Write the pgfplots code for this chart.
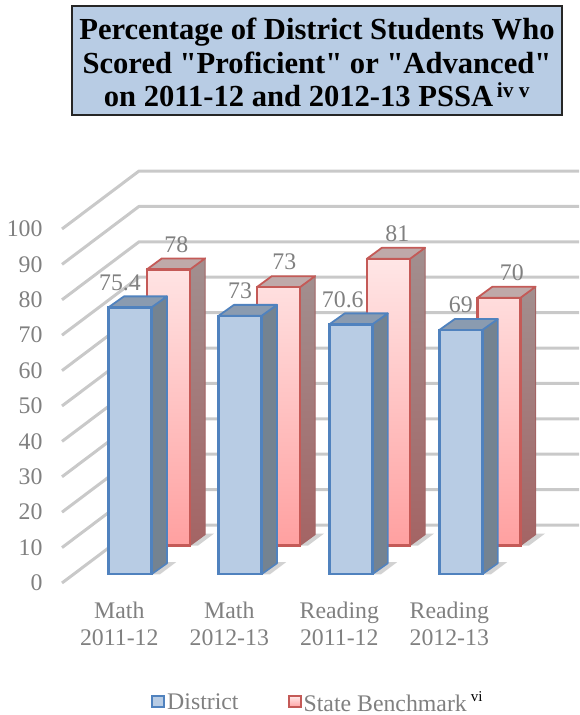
\documentclass[border=0pt]{standalone}
\usepackage{fontspec}
\setmainfont{Liberation Serif}
\usepackage{pgfplots}
\usepackage{pgfplotstable}
\pgfplotsset{compat=1.18}
\definecolor{txt}{HTML}{808080}
\definecolor{gridc}{HTML}{C9C9C9}
\definecolor{bfront}{HTML}{B8CCE4}
\definecolor{bline}{HTML}{5082BE}
\definecolor{bside}{HTML}{748391}
\definecolor{btop}{HTML}{8A9BB0}
\definecolor{rline}{HTML}{C45A57}
\definecolor{rtopc}{HTML}{FFE6E6}
\definecolor{rbot}{HTML}{FFA0A0}
\definecolor{rsidet}{HTML}{A28F8F}
\definecolor{rsideb}{HTML}{A46464}
\definecolor{rtopf}{HTML}{BFA9A9}
\pgfplotstableread{
x v dx
130.0 75.4 -10
240.0 73 0
350.8 70.6 -8
460.8 69 0
}\district
\pgfplotstableread{
x v dx
168.3 78 8
278.3 73 6
388.3 81 9
498.8 70 13
}\benchmark
\pgfplotsset{base/.style={
  at={(0pt,0pt)},anchor=south west,width=579pt,height=715pt,scale only axis,
  xmin=0,xmax=579,axis line style={draw=none},tick style={draw=none},
  clip=false,ticklabel style={font=\fontsize{23.8}{27}\selectfont,text=txt},
  /pgf/number format/assume math mode=true},
  gl/.style={draw=gridc,line width=3pt,line join=round,no marks,forget plot},
  vals/.style={ybar,bar width=43pt,bar shift=0pt,forget plot,
    visualization depends on={\thisrow{dx} \as \dxv},
    nodes near coords,
    every node near coord/.style={anchor=center,xshift=\dxv pt,yshift=25pt,text=txt,
      font=\fontsize{23.8}{27}\selectfont}},
  rs/.style={top color=rsidet,bottom color=rsideb,draw=rsideb,line width=1pt,no marks,forget plot},
  rt/.style={fill=rtopf,draw=rline,line width=1.8pt,line join=round,no marks,forget plot},
  bs/.style={fill=bside,draw=bline,line width=1.6pt,line join=round,no marks,forget plot},
  bt/.style={fill=btop,draw=bline,line width=1.8pt,line join=round,no marks,forget plot},
  sh/.style={fill=black!35,draw=none,opacity=.5,no marks,forget plot}
}
\begin{document}
\begin{tikzpicture}[x=1pt,y=1pt]
\useasboundingbox (0pt,0pt) rectangle (579pt,715pt);
% grid and value axis: y = 0 at the front-left of the floor
\begin{axis}[base,ymin=-37.29,ymax=164.69,
  xtick=\empty,ytick={0,10,...,100},
  yticklabel style={anchor=east,xshift=46pt}]
\addplot[gl] coordinates {(62,0)(139,16.38)(579,16.38)};
\addplot[gl] coordinates {(62,10)(139,26.38)(579,26.38)};
\addplot[gl] coordinates {(62,20)(139,36.38)(579,36.38)};
\addplot[gl] coordinates {(62,30)(139,46.38)(579,46.38)};
\addplot[gl] coordinates {(62,40)(139,56.38)(579,56.38)};
\addplot[gl] coordinates {(62,50)(139,66.38)(579,66.38)};
\addplot[gl] coordinates {(62,60)(139,76.38)(579,76.38)};
\addplot[gl] coordinates {(62,70)(139,86.38)(579,86.38)};
\addplot[gl] coordinates {(62,80)(139,96.38)(579,96.38)};
\addplot[gl] coordinates {(62,90)(139,106.38)(579,106.38)};
\addplot[gl] coordinates {(62,100)(139,116.38)(579,116.38)};
\end{axis}
% State Benchmark
\begin{axis}[base,ymin=-47.85,ymax=154.12,xtick=\empty,ytick=\empty]
\addplot[sh] coordinates {(190,0)(205,3.4)(214,3.4)(198,0)} -- cycle;
\addplot[sh] coordinates {(300,0)(315,3.4)(324,3.4)(308,0)} -- cycle;
\addplot[sh] coordinates {(410,0)(425,3.4)(434,3.4)(418,0)} -- cycle;
\addplot[sh] coordinates {(521,0)(536,3.4)(545,3.4)(529,0)} -- cycle;
\addplot[rs] coordinates {(190,0)(205,3.11)(205,81.11)(190,78)} -- cycle;
\addplot[rt] coordinates {(146.8,78)(161.8,81.11)(205,81.11)(190,78)} -- cycle;
\addplot[rs] coordinates {(300,0)(315,3.11)(315,76.11)(300,73)} -- cycle;
\addplot[rt] coordinates {(256.8,73)(271.8,76.11)(315,76.11)(300,73)} -- cycle;
\addplot[rs] coordinates {(410,0)(425,3.11)(425,84.11)(410,81)} -- cycle;
\addplot[rt] coordinates {(366.8,81)(381.8,84.11)(425,84.11)(410,81)} -- cycle;
\addplot[rs] coordinates {(520.5,0)(535.5,3.11)(535.5,73.11)(520.5,70)} -- cycle;
\addplot[rt] coordinates {(477.3,70)(492.3,73.11)(535.5,73.11)(520.5,70)} -- cycle;
\addplot[vals,top color=rtopc,bottom color=rbot,draw=rline,line width=2.4pt] table[x=x,y=v] {\benchmark};
\end{axis}
% District
\begin{axis}[base,ymin=-39.75,ymax=162.23,
  ytick=\empty,
  xtick={119.3,229.3,339.3,449.3},
  xticklabels={Math\\2011-12,Math\\2012-13,Reading\\2011-12,Reading\\2012-13},
  xticklabel style={align=center,anchor=center,yshift=91pt},
  legend style={at={(151pt,13pt)},anchor=west,draw=none,fill=none,inner sep=0pt,
    font=\fontsize{23.8}{27}\selectfont,text=txt,
    /tikz/every even column/.append style={column sep=47pt}},
  legend cell align=left,legend columns=2]
\addlegendimage{legend image code/.code={\draw[fill=bfront,draw=bline,line width=2pt] (-4pt,-5.5pt) rectangle (8pt,5.5pt);}}
\addlegendentry{District}
\addlegendimage{legend image code/.code={\draw[top color=rtopc,bottom color=rbot,draw=rline,line width=2pt] (-4pt,-5.5pt) rectangle (8pt,5.5pt);}}
\addlegendentry{State Benchmark\,\raisebox{10pt}{\textcolor{black}{\fontsize{15}{15}\selectfont vi}}}
\addplot[sh] coordinates {(152,0)(167,3.4)(176,3.4)(160,0)} -- cycle;
\addplot[sh] coordinates {(262,0)(277,3.4)(286,3.4)(270,0)} -- cycle;
\addplot[sh] coordinates {(373,0)(388,3.4)(397,3.4)(381,0)} -- cycle;
\addplot[sh] coordinates {(483,0)(498,3.4)(507,3.4)(491,0)} -- cycle;
\addplot[bs] coordinates {(151.5,0)(167,3.11)(167,78.51)(151.5,75.4)} -- cycle;
\addplot[bt] coordinates {(108.5,75.4)(124,78.51)(167,78.51)(151.5,75.4)} -- cycle;
\addplot[bs] coordinates {(261.5,0)(277,3.11)(277,76.11)(261.5,73)} -- cycle;
\addplot[bt] coordinates {(218.5,73)(234,76.11)(277,76.11)(261.5,73)} -- cycle;
\addplot[bs] coordinates {(372.3,0)(387.8,3.11)(387.8,73.71)(372.3,70.6)} -- cycle;
\addplot[bt] coordinates {(329.3,70.6)(344.8,73.71)(387.8,73.71)(372.3,70.6)} -- cycle;
\addplot[bs] coordinates {(482.3,0)(497.8,3.11)(497.8,72.11)(482.3,69)} -- cycle;
\addplot[bt] coordinates {(439.3,69)(454.8,72.11)(497.8,72.11)(482.3,69)} -- cycle;
\addplot[vals,fill=bfront,draw=bline,line width=2.4pt] table[x=x,y=v] {\district};
\end{axis}
\node[draw=black!85,line width=1.6pt,fill=bfront,minimum width=490pt,minimum height=109pt,
  inner sep=0pt,anchor=center] at (317pt,654.3pt) {};
\node[inner sep=0pt,align=center,anchor=center,text=black,
  font=\fontsize{30.6}{33.5}\selectfont\bfseries] at (317pt,652.5pt)
  {Percentage of District Students Who\\Scored \textquotedbl Proficient\textquotedbl{} or \textquotedbl Advanced\textquotedbl\\on 2011-12 and 2012-13 PSSA\textsuperscript{\,iv v}};
\end{tikzpicture}
\end{document}
